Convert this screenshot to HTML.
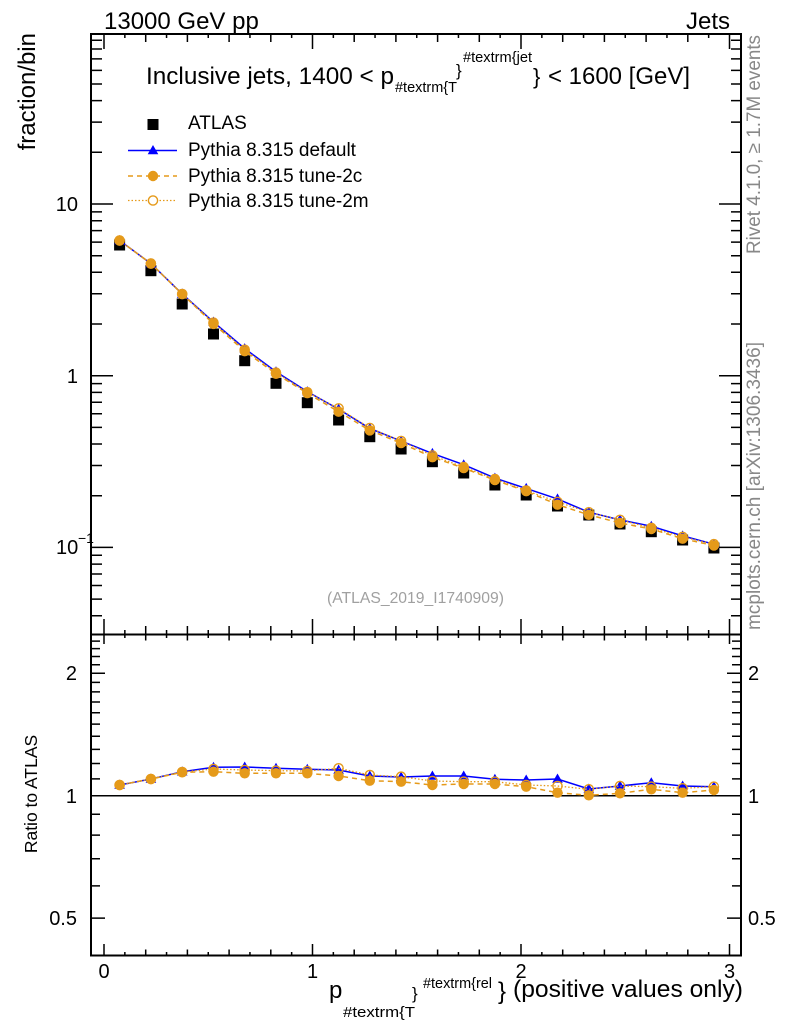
<!DOCTYPE html>
<html><head><meta charset="utf-8"><style>
html,body{margin:0;padding:0;background:#fff;}
svg{display:block;}
text{font-family:"Liberation Sans",Arial,sans-serif;}
</style></head><body>
<svg width="786" height="1024" viewBox="0 0 786 1024" xmlns="http://www.w3.org/2000/svg">
<defs>
<marker id="sq" markerUnits="userSpaceOnUse" markerWidth="12" markerHeight="12" refX="6" refY="6" orient="0" overflow="visible"><rect x="0.5" y="0.5" width="11" height="11" fill="#000"/></marker>
<marker id="tri" markerUnits="userSpaceOnUse" markerWidth="12" markerHeight="12" refX="6" refY="6" orient="0" overflow="visible"><path d="M6,0.5 L11.3,9.8 L0.7,9.8Z" fill="#0000ff"/></marker>
<marker id="dot" markerUnits="userSpaceOnUse" markerWidth="12" markerHeight="12" refX="6" refY="6" orient="0" overflow="visible"><circle cx="6" cy="6" r="5.2" fill="#e59a1a"/></marker>
<marker id="odot" markerUnits="userSpaceOnUse" markerWidth="12" markerHeight="12" refX="6" refY="6" orient="0" overflow="visible"><circle cx="6" cy="6" r="4.6" fill="none" stroke="#e59a1a" stroke-width="1.4"/></marker>
</defs>
<rect width="786" height="1024" fill="#fff"/>

<!-- header texts -->
<text x="104" y="29" font-size="24" fill="#000">13000 GeV pp</text>
<text x="730" y="29" font-size="24" fill="#000" text-anchor="end">Jets</text>

<!-- title -->
<text x="146" y="84" font-size="24" textLength="248" lengthAdjust="spacingAndGlyphs">Inclusive jets, 1400 &lt; p</text>
<text x="395" y="92" font-size="14.5" textLength="62" lengthAdjust="spacingAndGlyphs">#textrm{T</text>
<text x="456" y="76" font-size="17">}</text>
<text x="463" y="62" font-size="14.5" textLength="69" lengthAdjust="spacingAndGlyphs">#textrm{jet</text>
<text x="533" y="84" font-size="22">}</text>
<text x="548" y="84" font-size="24" textLength="142" lengthAdjust="spacingAndGlyphs">&lt; 1600 [GeV]</text>

<!-- y axis title -->
<text transform="translate(35,33) rotate(-90)" font-size="24" text-anchor="end">fraction/bin</text>
<text transform="translate(37,794) rotate(-90)" font-size="17.5" text-anchor="middle">Ratio to ATLAS</text>

<!-- right side -->
<text transform="translate(760,254) rotate(-90)" font-size="19" fill="#888" textLength="219" lengthAdjust="spacingAndGlyphs">Rivet 4.1.0, ≥ 1.7M events</text>
<text transform="translate(760,630) rotate(-90)" font-size="19" fill="#888" textLength="288" lengthAdjust="spacingAndGlyphs">mcplots.cern.ch [arXiv:1306.3436]</text>

<!-- analysis id -->
<text x="327" y="603" font-size="15.5" fill="#a0a0a0" textLength="177" lengthAdjust="spacingAndGlyphs">(ATLAS_2019_I1740909)</text>

<!-- legend -->
<rect x="147.5" y="119" width="11" height="11" fill="#000"/>
<text x="188" y="129" font-size="19">ATLAS</text>
<line x1="128" y1="150.5" x2="177" y2="150.5" stroke="#0000ff" stroke-width="1.5"/>
<path d="M153,145 L158.3,154.3 L147.7,154.3Z" fill="#0000ff"/>
<text x="188" y="156" font-size="19">Pythia 8.315 default</text>
<line x1="128" y1="176" x2="177" y2="176" stroke="#e59a1a" stroke-width="1.5" stroke-dasharray="5,4"/>
<circle cx="153" cy="176" r="5.2" fill="#e59a1a"/>
<text x="188" y="182" font-size="19">Pythia 8.315 tune-2c</text>
<line x1="128" y1="200.5" x2="177" y2="200.5" stroke="#e59a1a" stroke-width="1.3" stroke-dasharray="1.5,2"/>
<circle cx="153" cy="200.5" r="4.6" fill="#fff" stroke="#e59a1a" stroke-width="1.4"/>
<text x="188" y="207" font-size="19">Pythia 8.315 tune-2m</text>

<!-- main panel data -->
<polyline fill="none" stroke="none" marker-start="url(#sq)" marker-mid="url(#sq)" marker-end="url(#sq)" points="119.6,245 150.9,270.7 182.2,304 213.5,334 244.7,360.7 276,383.3 307.3,402.7 338.6,420 369.8,436.7 401.1,449 432.4,461.7 463.7,473 494.9,485 526.2,495 557.5,506 588.8,515 620,524 651.3,531.7 682.6,540 713.9,548"/>
<polyline fill="none" stroke="#0000ff" stroke-width="1.5" marker-start="url(#tri)" marker-mid="url(#tri)" marker-end="url(#tri)" points="119.6,240.5 150.9,263.6 182.2,293.9 213.5,322 244.7,348.6 276,371.7 307.3,391.6 338.6,409.1 369.8,428.4 401.1,441.1 432.4,453.4 463.7,464.7 494.9,478.1 526.2,488.4 557.5,498.9 588.8,512.2 620,519.9 651.3,526.2 682.6,535.9 713.9,544.2"/>
<polyline fill="none" stroke="#e59a1a" stroke-width="1.5" stroke-dasharray="5,4" marker-start="url(#dot)" marker-mid="url(#dot)" marker-end="url(#dot)" points="119.6,240.5 150.9,263.6 182.2,294.1 213.5,323.9 244.7,351.2 276,373.8 307.3,393.2 338.6,411.7 369.8,430.4 401.1,443.1 432.4,457.2 463.7,468.1 494.9,480.1 526.2,491.2 557.5,504.7 588.8,514.8 620,523 651.3,529 682.6,538.7 713.9,545.6"/>
<polyline fill="none" stroke="#e59a1a" stroke-width="1.3" stroke-dasharray="1.5,2" marker-start="url(#odot)" marker-mid="url(#odot)" marker-end="url(#odot)" points="119.6,240.5 150.9,263.6 182.2,294 213.5,322.7 244.7,349.8 276,372.7 307.3,392.3 338.6,408.4 369.8,428 401.1,441 432.4,455.5 463.7,467.1 494.9,479.1 526.2,490.5 557.5,501.9 588.8,512.3 620,519.9 651.3,527.9 682.6,536.9 713.9,544.2"/>

<!-- ratio line at 1 -->
<line x1="91" y1="795.7" x2="741" y2="795.7" stroke="#000" stroke-width="1.5"/>

<!-- ratio data -->
<polyline fill="none" stroke="#0000ff" stroke-width="1.5" marker-start="url(#tri)" marker-mid="url(#tri)" marker-end="url(#tri)" points="119.6,785 150.9,779 182.2,771.7 213.5,767.3 244.7,767 276,768.3 307.3,769.3 338.6,770 369.8,776 401.1,777 432.4,776 463.7,776 494.9,779.3 526.2,780 557.5,779 588.8,789 620,786 651.3,782.7 682.6,786 713.9,786.7"/>
<polyline fill="none" stroke="#e59a1a" stroke-width="1.5" stroke-dasharray="5,4" marker-start="url(#dot)" marker-mid="url(#dot)" marker-end="url(#dot)" points="119.6,785 150.9,779 182.2,772.3 213.5,771.7 244.7,773.3 276,773.3 307.3,773.3 338.6,776 369.8,780.7 401.1,781.7 432.4,785 463.7,784 494.9,784 526.2,786.7 557.5,792.7 588.8,795.3 620,793.3 651.3,789.3 682.6,792.7 713.9,790"/>
<polyline fill="none" stroke="#e59a1a" stroke-width="1.3" stroke-dasharray="1.5,2" marker-start="url(#odot)" marker-mid="url(#odot)" marker-end="url(#odot)" points="119.6,785 150.9,779 182.2,772 213.5,769 244.7,770 276,770.7 307.3,771 338.6,768.3 369.8,775 401.1,776.7 432.4,781 463.7,781.7 494.9,781.7 526.2,785 557.5,786 588.8,789.3 620,786 651.3,786.7 682.6,788.3 713.9,786.7"/>

<!-- frames -->
<rect x="91" y="34" width="650" height="600.5" fill="none" stroke="#000" stroke-width="2"/>
<rect x="91" y="634.5" width="650" height="321" fill="none" stroke="#000" stroke-width="2"/>

<!-- x ticks main bottom -->
<path fill="none" stroke="#000" stroke-width="1.5" d="M104 634v-15M124.85 634v-4M145.7 634v-8M166.55 634v-4M187.4 634v-8M208.25 634v-4M229.1 634v-8M249.95 634v-4M270.8 634v-8M291.65 634v-4M312.5 634v-15M333.35 634v-4M354.2 634v-8M375.05 634v-4M395.9 634v-8M416.75 634v-4M437.6 634v-8M458.45 634v-4M479.3 634v-8M500.15 634v-4M521 634v-15M541.85 634v-4M562.7 634v-8M583.55 634v-4M604.4 634v-8M625.25 634v-4M646.1 634v-8M666.95 634v-4M687.8 634v-8M708.65 634v-4M729.5 634v-15"/>
<!-- x ticks main top -->
<path fill="none" stroke="#000" stroke-width="1.5" d="M104 34v15M124.85 34v4M145.7 34v8M166.55 34v4M187.4 34v8M208.25 34v4M229.1 34v8M249.95 34v4M270.8 34v8M291.65 34v4M312.5 34v15M333.35 34v4M354.2 34v8M375.05 34v4M395.9 34v8M416.75 34v4M437.6 34v8M458.45 34v4M479.3 34v8M500.15 34v4M521 34v15M541.85 34v4M562.7 34v8M583.55 34v4M604.4 34v8M625.25 34v4M646.1 34v8M666.95 34v4M687.8 34v8M708.65 34v4M729.5 34v15"/>
<!-- x ticks ratio top -->
<path fill="none" stroke="#000" stroke-width="1.5" d="M104 635v9M124.85 635v3M145.7 635v5.5M166.55 635v3M187.4 635v5.5M208.25 635v3M229.1 635v5.5M249.95 635v3M270.8 635v5.5M291.65 635v3M312.5 635v9M333.35 635v3M354.2 635v5.5M375.05 635v3M395.9 635v5.5M416.75 635v3M437.6 635v5.5M458.45 635v3M479.3 635v5.5M500.15 635v3M521 635v9M541.85 635v3M562.7 635v5.5M583.55 635v3M604.4 635v5.5M625.25 635v3M646.1 635v5.5M666.95 635v3M687.8 635v5.5M708.65 635v3M729.5 635v9"/>
<!-- x ticks ratio bottom -->
<path fill="none" stroke="#000" stroke-width="1.5" d="M104 955v-11M124.85 955v-3M145.7 955v-5.5M166.55 955v-3M187.4 955v-5.5M208.25 955v-3M229.1 955v-5.5M249.95 955v-3M270.8 955v-5.5M291.65 955v-3M312.5 955v-11M333.35 955v-3M354.2 955v-5.5M375.05 955v-3M395.9 955v-5.5M416.75 955v-3M437.6 955v-5.5M458.45 955v-3M479.3 955v-5.5M500.15 955v-3M521 955v-11M541.85 955v-3M562.7 955v-5.5M583.55 955v-3M604.4 955v-5.5M625.25 955v-3M646.1 955v-5.5M666.95 955v-3M687.8 955v-5.5M708.65 955v-3M729.5 955v-11"/>

<!-- main y ticks left -->
<path fill="none" stroke="#000" stroke-width="1.5" d="M91 204h22M91 375.7h22M91 547.4h22M91 40.2h11M91 49h11M91 58.9h11M91 70.4h11M91 84h11M91 100.6h11M91 122.1h11M91 152.3h11M91 211.9h11M91 220.7h11M91 230.6h11M91 242.1h11M91 255.7h11M91 272.3h11M91 293.8h11M91 324h11M91 383.6h11M91 392.4h11M91 402.3h11M91 413.8h11M91 427.4h11M91 444h11M91 465.5h11M91 495.7h11M91 555.3h11M91 564.1h11M91 574h11M91 585.5h11M91 599.1h11M91 615.7h11"/>
<!-- main y ticks right -->
<path fill="none" stroke="#000" stroke-width="1.5" d="M741 204h-22M741 375.7h-22M741 547.4h-22M741 40.2h-10M741 49h-10M741 58.9h-10M741 70.4h-10M741 84h-10M741 100.6h-10M741 122.1h-10M741 152.3h-10M741 211.9h-10M741 220.7h-10M741 230.6h-10M741 242.1h-10M741 255.7h-10M741 272.3h-10M741 293.8h-10M741 324h-10M741 383.6h-10M741 392.4h-10M741 402.3h-10M741 413.8h-10M741 427.4h-10M741 444h-10M741 465.5h-10M741 495.7h-10M741 555.3h-10M741 564.1h-10M741 574h-10M741 585.5h-10M741 599.1h-10M741 615.7h-10"/>
<!-- ratio y ticks left -->
<path fill="none" stroke="#000" stroke-width="1.5" d="M91 918.1h14M91 795.7h14M91 673.3h14M91 885.9h9M91 858.7h9M91 835.1h9M91 814.3h9M91 778.9h9M91 763.5h9M91 749.4h9M91 736.3h9M91 724.1h9M91 712.7h9M91 702h9M91 691.9h9M91 682.4h9M91 664.7h9M91 656.5h9M91 648.6h9M91 641.1h9"/>
<!-- ratio y ticks right -->
<path fill="none" stroke="#000" stroke-width="1.5" d="M741 918.1h-14M741 795.7h-14M741 673.3h-14M741 885.9h-9M741 858.7h-9M741 835.1h-9M741 814.3h-9M741 778.9h-9M741 763.5h-9M741 749.4h-9M741 736.3h-9M741 724.1h-9M741 712.7h-9M741 702h-9M741 691.9h-9M741 682.4h-9M741 664.7h-9M741 656.5h-9M741 648.6h-9M741 641.1h-9"/>

<!-- main y tick labels -->
<text x="78" y="211" font-size="20" text-anchor="end">10</text>
<text x="78" y="383" font-size="20" text-anchor="end">1</text>
<text x="56" y="554" font-size="20">10</text>
<text x="78" y="543" font-size="14">−1</text>

<!-- ratio y tick labels -->
<text x="77" y="680" font-size="20" text-anchor="end">2</text>
<text x="77" y="803" font-size="20" text-anchor="end">1</text>
<text x="77" y="925" font-size="20" text-anchor="end">0.5</text>
<text x="748" y="680" font-size="20">2</text>
<text x="748" y="803" font-size="20">1</text>
<text x="748" y="925" font-size="20">0.5</text>

<!-- x tick labels -->
<text x="104" y="978" font-size="20" text-anchor="middle">0</text>
<text x="312.5" y="978" font-size="20" text-anchor="middle">1</text>
<text x="521" y="978" font-size="20" text-anchor="middle">2</text>
<text x="729.5" y="978" font-size="20" text-anchor="middle">3</text>

<!-- x axis title -->
<text x="329" y="998" font-size="24">p</text>
<text x="343" y="1017" font-size="15" textLength="72" lengthAdjust="spacingAndGlyphs">#textrm{T</text>
<text x="412" y="999" font-size="17">}</text>
<text x="423" y="988" font-size="14.5" textLength="69" lengthAdjust="spacingAndGlyphs">#textrm{rel</text>
<text x="498" y="999" font-size="24">}</text>
<text x="513" y="997" font-size="24.5" textLength="230" lengthAdjust="spacingAndGlyphs">(positive values only)</text>
</svg>
</body></html>
